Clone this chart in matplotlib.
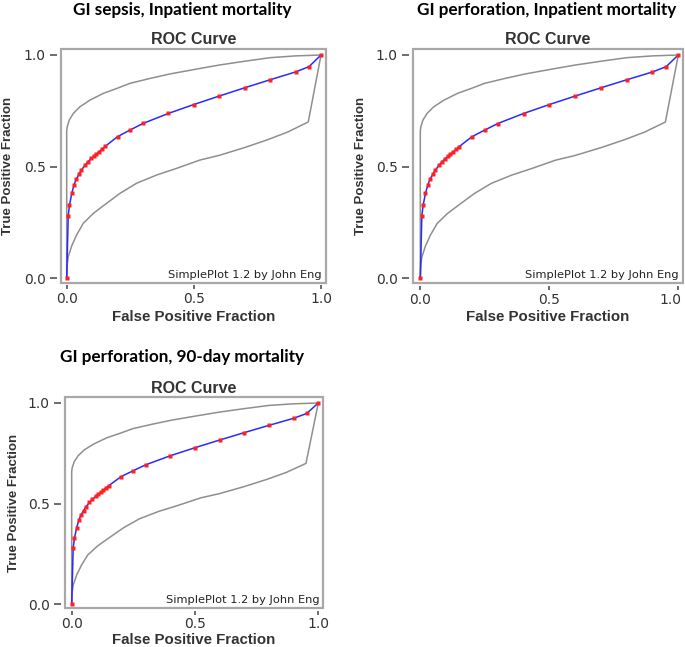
import matplotlib
matplotlib.use("Agg")
import matplotlib.pyplot as plt
import matplotlib.transforms as mtransforms
from matplotlib.patches import Rectangle

# Points estimés de la courbe ROC (marqueurs rouges)
roc_fpf = [0, 0.006, 0.011, 0.02, 0.029, 0.038, 0.048, 0.058, 0.072, 0.084, 0.097,
           0.107, 0.117, 0.127, 0.139, 0.151, 0.2, 0.25, 0.30, 0.40, 0.50, 0.60,
           0.70, 0.80, 0.90, 0.953, 1.0]
roc_tpf = [0, 0.28, 0.327, 0.38, 0.418, 0.444, 0.465, 0.484, 0.506, 0.521, 0.536,
           0.546, 0.556, 0.566, 0.578, 0.59, 0.634, 0.664, 0.693, 0.738, 0.778, 0.816,
           0.853, 0.889, 0.924, 0.948, 1.0]

# Bornes de confiance (courbes grises)
upper_fpf = [0, 0, 0.002, 0.01, 0.026, 0.052, 0.092, 0.144, 0.197, 0.249, 0.328,
             0.406, 0.511, 0.6, 0.7, 0.8, 0.9, 1.0]
upper_tpf = [0, 0.66, 0.678, 0.708, 0.738, 0.768, 0.798, 0.828, 0.85, 0.873, 0.895,
             0.915, 0.937, 0.955, 0.972, 0.988, 0.996, 1.0]
lower_fpf = [0, 0.002, 0.006, 0.02, 0.039, 0.065, 0.105, 0.157, 0.21, 0.275, 0.354,
             0.433, 0.524, 0.6, 0.7, 0.79, 0.87, 0.95, 1.0]
lower_tpf = [0, 0.06, 0.095, 0.145, 0.193, 0.245, 0.29, 0.335, 0.38, 0.425, 0.462,
             0.492, 0.529, 0.55, 0.585, 0.62, 0.655, 0.70, 1.0]

panel_titles = ["GI sepsis, Inpatient mortality",
                "GI perforation, Inpatient mortality",
                "GI perforation, 90-day mortality"]
tick_values = [0.0, 0.5, 1.0]
tick_labels = ["0.0", "0.5", "1.0"]

W, H = 685, 647
# cadre (gauche, droite, haut, bas) et position des données x0, x1, y1, y0 en pixels
layout = [
    ((61, 326, 49, 282.5), (66.7, 321, 55, 278)),
    ((413, 683, 49, 283), (420.3, 678.3, 55, 278.3)),
    ((65, 323, 397, 608), (71.7, 318.3, 403, 604.3)),
]
title_pos = [(182, 10), (547, 10), (182, 357)]
ylabel_x = [8, 361, 14]
xlabel_y = [317, 317.5, 639.5]
xtick_pad = [2, 2, 1.2]

fig = plt.figure(figsize=(W / 100, H / 100), dpi=100)

for i, ((frame, data), title) in enumerate(zip(layout, panel_titles)):
    L, R, T, B = frame
    x0, x1, y1, y0 = data
    ax = fig.add_axes([L / W, 1 - B / H, (R - L) / W, (B - T) / H])
    sx = x1 - x0
    sy = y0 - y1
    ax.set_xlim((L - x0) / sx, (R - x0) / sx)
    ax.set_ylim(-(B - y0) / sy, 1 + (y1 - T) / sy)

    ax.plot(upper_fpf, upper_tpf, color="#8f8f8f", lw=1.1)
    ax.plot(lower_fpf, lower_tpf, color="#8f8f8f", lw=1.1)
    ax.plot(roc_fpf, roc_tpf, color="#2a2aff", lw=1.1, zorder=3)
    ax.plot(roc_fpf, roc_tpf, ls="none", marker="s", ms=2.8, color="#ff2020",
            mec="none", zorder=4)

    for s in ax.spines.values():
        s.set_visible(False)
    ax.spines["left"].set_position(("outward", 3))
    ax.spines["bottom"].set_position(("outward", 2))
    ax.add_patch(Rectangle((0, 0), 1, 1, transform=ax.transAxes, fill=False,
                           edgecolor="#a8a8a8", lw=1.6, clip_on=False, zorder=5))

    ax.set_xticks(tick_values, tick_labels)
    ax.set_yticks(tick_values, tick_labels)
    ax.tick_params(direction="out", width=1.1, color="#444444",
                   labelsize=10, labelcolor="#333333")
    ax.tick_params(axis="x", length=3, pad=xtick_pad[i])
    ax.tick_params(axis="y", length=5, pad=3)
    if R > W - 10:
        # dernier libellé décalé pour rester dans l'image
        lab = ax.get_xticklabels()[-1]
        lab.set_transform(lab.get_transform() +
                          mtransforms.ScaledTranslation(-6 / 72, 0, fig.dpi_scale_trans))

    fig.text((L + R) / 2 / W, 1 - (T - 9) / H, "ROC Curve", ha="center", va="center",
             family="Liberation Sans", weight="bold", fontsize=11.5, color="#333333")
    ax.set_xlabel("False Positive Fraction", family="Liberation Sans",
                  weight="bold", fontsize=10.8, color="#333333", va="center")
    ax.xaxis.set_label_coords(0.5, (B - xlabel_y[i]) / (B - T))
    ax.set_ylabel("True Positive Fraction", family="Liberation Sans",
                  weight="bold", fontsize=9.5, color="#333333", va="center")
    ax.yaxis.set_label_coords((ylabel_x[i] - L) / (R - L), 0.5)
    ax.text(0.985, 0.012, "SimplePlot 1.2 by John Eng", transform=ax.transAxes,
            ha="right", va="bottom", fontsize=8.2, color="#222222")

    tx, ty = title_pos[i]
    fig.text(tx / W, 1 - ty / H, title, ha="center", va="center",
             family="Lato", weight="bold", fontsize=12.3)

fig.savefig("out.png", dpi=100)
